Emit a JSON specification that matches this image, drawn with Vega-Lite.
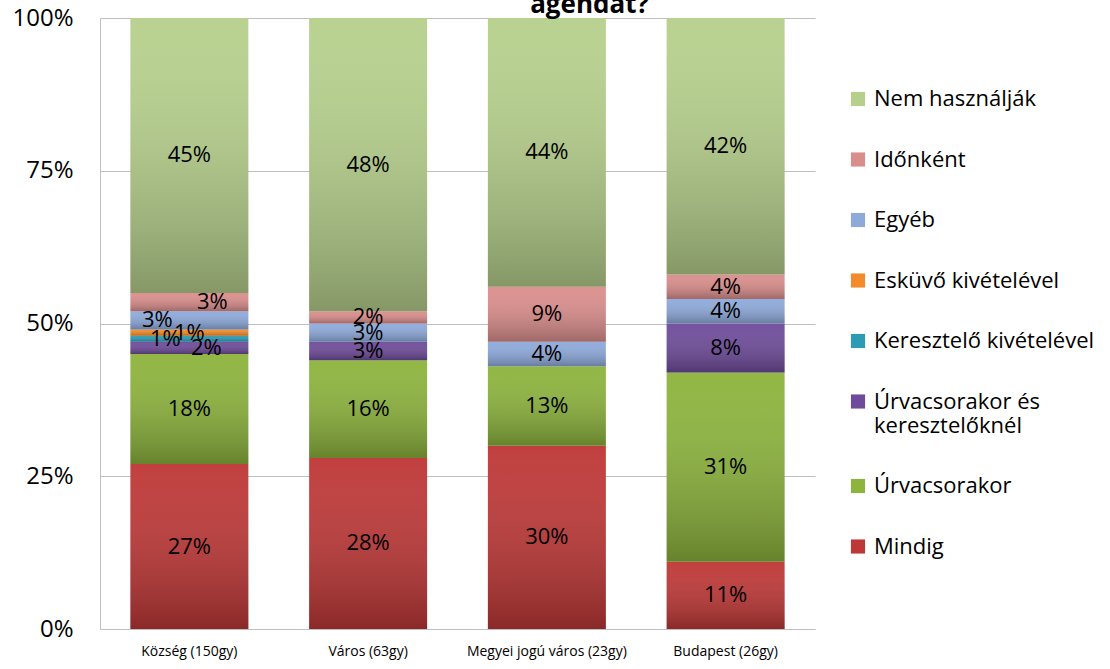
{
  "$schema": "https://vega.github.io/schema/vega-lite/v6.json",
  "width": 715,
  "height": 611,
  "autosize": "none",
  "padding": {"left": 100, "top": 18, "right": 295, "bottom": 40},
  "background": "white",
  "title": {"text": "agendát?", "anchor": "middle", "fontSize": 26, "fontWeight": "bold", "font": "Open Sans", "color": "#000000", "baseline": "alphabetic", "offset": -5, "dy": 28, "dx": 132},
  "config": {"view": {"stroke": null}, "font": "Open Sans"},
  "data": {"values": [
    {"cat": "Község (150gy)", "series": "Mindig", "value": 27},
    {"cat": "Község (150gy)", "series": "Úrvacsorakor", "value": 18},
    {"cat": "Község (150gy)", "series": "Úrvacsorakor és keresztelőknél", "value": 2},
    {"cat": "Község (150gy)", "series": "Keresztelő kivételével", "value": 1},
    {"cat": "Község (150gy)", "series": "Esküvő kivételével", "value": 1},
    {"cat": "Község (150gy)", "series": "Egyéb", "value": 3},
    {"cat": "Község (150gy)", "series": "Időnként", "value": 3},
    {"cat": "Község (150gy)", "series": "Nem használják", "value": 45},
    {"cat": "Város (63gy)", "series": "Mindig", "value": 28},
    {"cat": "Város (63gy)", "series": "Úrvacsorakor", "value": 16},
    {"cat": "Város (63gy)", "series": "Úrvacsorakor és keresztelőknél", "value": 3},
    {"cat": "Város (63gy)", "series": "Egyéb", "value": 3},
    {"cat": "Város (63gy)", "series": "Időnként", "value": 2},
    {"cat": "Város (63gy)", "series": "Nem használják", "value": 48},
    {"cat": "Megyei jogú város (23gy)", "series": "Mindig", "value": 30},
    {"cat": "Megyei jogú város (23gy)", "series": "Úrvacsorakor", "value": 13},
    {"cat": "Megyei jogú város (23gy)", "series": "Egyéb", "value": 4},
    {"cat": "Megyei jogú város (23gy)", "series": "Időnként", "value": 9},
    {"cat": "Megyei jogú város (23gy)", "series": "Nem használják", "value": 44},
    {"cat": "Budapest (26gy)", "series": "Mindig", "value": 11},
    {"cat": "Budapest (26gy)", "series": "Úrvacsorakor", "value": 31},
    {"cat": "Budapest (26gy)", "series": "Úrvacsorakor és keresztelőknél", "value": 8},
    {"cat": "Budapest (26gy)", "series": "Egyéb", "value": 4},
    {"cat": "Budapest (26gy)", "series": "Időnként", "value": 4},
    {"cat": "Budapest (26gy)", "series": "Nem használják", "value": 42}
  ]},
  "transform": [
    {"calculate": "indexof(['Mindig','Úrvacsorakor','Úrvacsorakor és keresztelőknél','Keresztelő kivételével','Esküvő kivételével','Egyéb','Időnként','Nem használják'], datum.series)", "as": "k"},
    {"stack": "value", "groupby": ["cat"], "sort": [{"field": "k", "order": "ascending"}], "as": ["v0", "v1"]},
    {"calculate": "(datum.v0 + datum.v1) / 2", "as": "mid"},
    {"calculate": "datum.value + '%'", "as": "lbl"}
  ],
  "encoding": {
    "x": {"field": "cat", "type": "nominal", "sort": ["Község (150gy)", "Város (63gy)", "Megyei jogú város (23gy)", "Budapest (26gy)"],
      "scale": {"paddingInner": 0.34, "paddingOuter": 0.17},
      "axis": {"title": null, "labelAngle": 0, "ticks": false, "domainColor": "#bfbfbf", "labelFontSize": 14, "labelColor": "#000000", "labelPadding": 15, "labelFont": "Open Sans"}}
  },
  "layer": [
    {
      "mark": {"type": "bar"},
      "encoding": {
        "y": {"field": "v0", "type": "quantitative", "scale": {"domain": [0, 100]},
          "axis": {"title": null, "values": [0, 25, 50, 75, 100], "labelExpr": "datum.value + '%'", "ticks": false, "domainColor": "#bfbfbf", "gridColor": "#bfbfbf", "labelFontSize": 24, "labelColor": "#000000", "labelPadding": 27, "labelFont": "Open Sans"}},
        "y2": {"field": "v1"},
        "color": {"field": "series", "type": "nominal",
          "scale": {"domain": ["Nem használják", "Időnként", "Egyéb", "Esküvő kivételével", "Keresztelő kivételével", "Úrvacsorakor és keresztelőknél", "Úrvacsorakor", "Mindig"],
            "range": ["#b6d08c", "#da8e8c", "#8eaadb", "#f38b2a", "#2c9bb3", "#6f4c9b", "#8db43d", "#be3837"]},
          "legend": {"title": null, "orient": "none", "legendX": 747, "legendY": 70, "symbolType": "square", "symbolSize": 200, "symbolStrokeWidth": 0, "labelFontSize": 22, "labelFont": "Open Sans", "labelColor": "#000000", "rowPadding": 38.5, "labelOffset": 5, "labelLimit": 300,
            "labelExpr": "datum.label == 'Úrvacsorakor és keresztelőknél' ? ['Úrvacsorakor és', 'keresztelőknél'] : datum.label"}}
      }
    },
    {
      "mark": {"type": "bar", "color": {"gradient": "linear", "x1": 0, "y1": 0, "x2": 0, "y2": 1, "stops": [{"offset": 0, "color": "rgba(255,255,255,0.04)"}, {"offset": 1, "color": "rgba(0,0,0,0.27)"}]}},
      "encoding": {
        "y": {"field": "v0", "type": "quantitative"},
        "y2": {"field": "v1"}
      }
    },
    {
      "mark": {"type": "text", "fontSize": 22, "font": "Open Sans", "color": "#000000", "baseline": "middle",
        "dx": {"expr": "datum.cat == 'Község (150gy)' ? (datum.series == 'Időnként' ? 23 : datum.series == 'Egyéb' ? -32 : datum.series == 'Keresztelő kivételével' ? -24 : datum.series == 'Úrvacsorakor és keresztelőknél' ? 17 : 0) : 0"}},
      "encoding": {
        "y": {"field": "mid", "type": "quantitative"},
        "text": {"field": "lbl", "type": "nominal"}
      }
    }
  ]
}
